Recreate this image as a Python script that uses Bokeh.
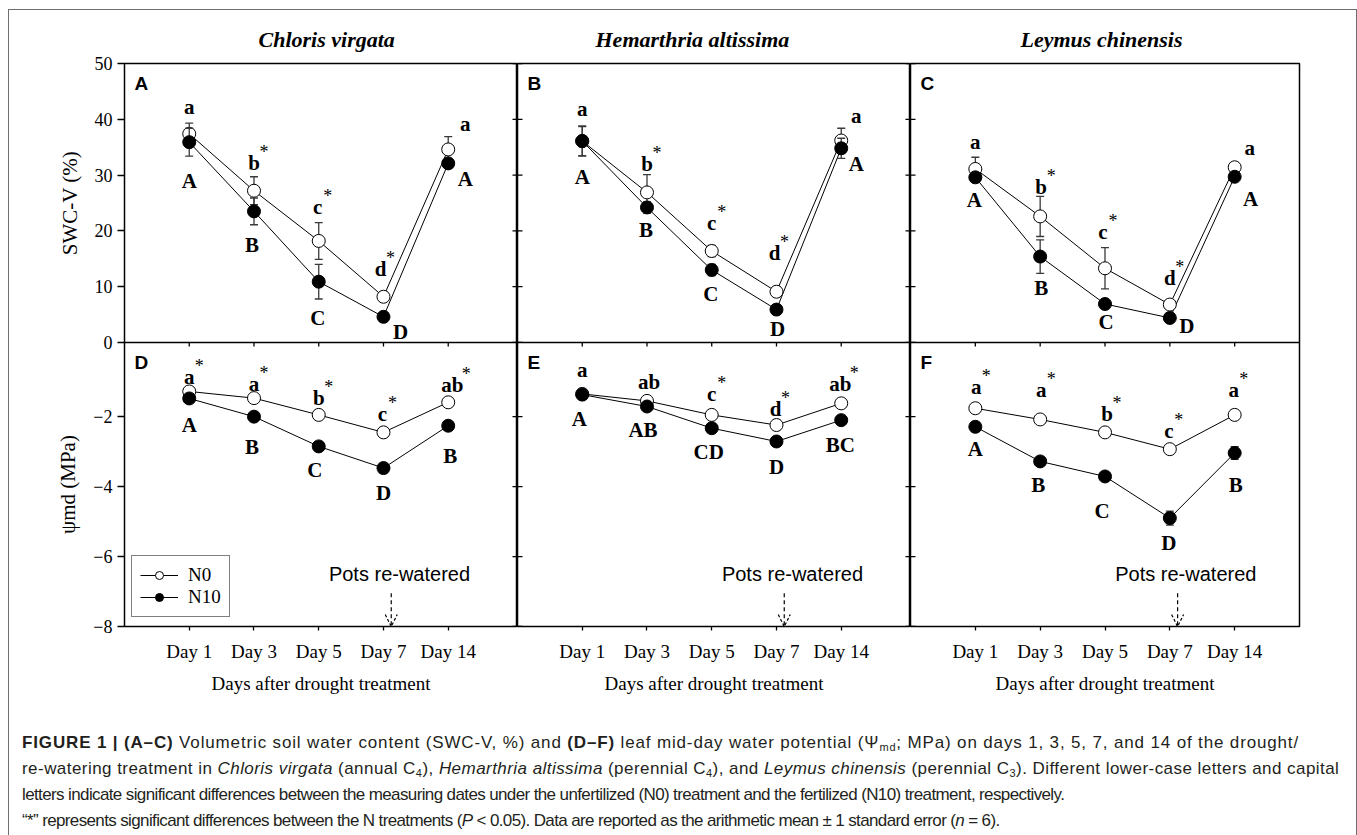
import math

from bokeh.plotting import figure
from bokeh.layouts import row, column
from bokeh.models import (Range1d, LinearAxis, FixedTicker, Label, Legend, LegendItem,
                          Arrow, OpenHead, ColumnDataSource, Div, Title)
from bokeh.embed import file_html
from bokeh.resources import INLINE
from bokeh.core.properties import value

# ---------------- data ----------------
days = ["Day 1", "Day 3", "Day 5", "Day 7", "Day 14"]
species = ["Chloris virgata", "Hemarthria altissima", "Leymus chinensis"]
panel_tags = ["A", "B", "C", "D", "E", "F"]
swc_ticks = [0, 10, 20, 30, 40, 50]
psi_ticks = [-8, -6, -4, -2]
series_names = ["N0", "N10"]
rewater_day = "Day 7"
rewater_note = "Pots re-watered"

# volumetric soil water content, SWC-V (%)
swc_cv_n0 = [37.4, 27.2, 18.2, 8.2, 34.6]
swc_cv_n0_se = [1.9, 2.5, 3.3, 0.8, 2.3]
swc_cv_n10 = [35.9, 23.5, 10.9, 4.6, 32.1]
swc_cv_n10_se = [2.5, 2.4, 3.1, 0.5, 0.9]

swc_ha_n0 = [36.1, 26.9, 16.4, 9.1, 36.2]
swc_ha_n0_se = [2.6, 3.2, 1.0, 0.6, 2.2]
swc_ha_n10 = [36.1, 24.2, 13.0, 5.9, 34.8]
swc_ha_n10_se = [2.7, 1.0, 1.0, 0.8, 1.8]

swc_lc_n0 = [31.1, 22.6, 13.3, 6.8, 31.4]
swc_lc_n0_se = [2.1, 3.6, 3.7, 0.5, 0.8]
swc_lc_n10 = [29.6, 15.4, 6.9, 4.4, 29.7]
swc_lc_n10_se = [0.8, 3.0, 0.6, 0.5, 0.6]

# leaf mid-day water potential, psi_md (MPa)
psi_cv_n0 = [-1.28, -1.47, -1.95, -2.45, -1.59]
psi_cv_n0_se = [0.08, 0.08, 0.08, 0.08, 0.08]
psi_cv_n10 = [-1.48, -2.00, -2.85, -3.47, -2.26]
psi_cv_n10_se = [0.08, 0.08, 0.08, 0.10, 0.08]

psi_ha_n0 = [-1.35, -1.55, -1.95, -2.24, -1.62]
psi_ha_n0_se = [0.06, 0.06, 0.06, 0.06, 0.06]
psi_ha_n10 = [-1.37, -1.71, -2.33, -2.71, -2.10]
psi_ha_n10_se = [0.06, 0.06, 0.08, 0.08, 0.08]

psi_lc_n0 = [-1.76, -2.08, -2.45, -2.93, -1.95]
psi_lc_n0_se = [0.08, 0.08, 0.08, 0.08, 0.08]
psi_lc_n10 = [-2.29, -3.28, -3.71, -4.90, -3.04]
psi_lc_n10_se = [0.08, 0.08, 0.08, 0.20, 0.18]

# significance letters (lower case: N0 between dates, capitals: N10 between dates,
# star: N0 vs N10 on that date)
swc_cv_lower = ["a", "b", "c", "d", "a"]
swc_cv_star = [False, True, True, True, False]
swc_cv_upper = ["A", "B", "C", "D", "A"]
swc_ha_lower = ["a", "b", "c", "d", "a"]
swc_ha_star = [False, True, True, True, False]
swc_ha_upper = ["A", "B", "C", "D", "A"]
swc_lc_lower = ["a", "b", "c", "d", "a"]
swc_lc_star = [False, True, True, True, False]
swc_lc_upper = ["A", "B", "C", "D", "A"]
psi_cv_lower = ["a", "a", "b", "c", "ab"]
psi_cv_star = [True, True, True, True, True]
psi_cv_upper = ["A", "B", "C", "D", "B"]
psi_ha_lower = ["a", "ab", "c", "d", "ab"]
psi_ha_star = [False, False, True, True, True]
psi_ha_upper = ["A", "AB", "CD", "D", "BC"]
psi_lc_lower = ["a", "a", "b", "c", "a"]
psi_lc_star = [True, True, True, True, True]
psi_lc_upper = ["A", "B", "C", "D", "B"]

# ---------------- label placement (pixel offsets from the marker) ----------------
lower_off = {
    "A": [(0, -27), (0, -28), (-1, -34), (-3, -28), (17, -25)],
    "B": [(0, -32), (0, -28), (0, -28), (-2, -39), (15, -25)],
    "C": [(0, -27), (1, -29), (-2, -36), (0, -27), (15, -19)],
    "D": [(0, -14), (0, -14), (0, -17), (-1, -18), (4, -17)],
    "E": [(0, -24), (2, -19), (0, -21), (-1, -16), (-1, -19)],
    "F": [(1, -21), (1, -29), (2, -18), (-1, -18), (-1, -25)],
}
upper_off = {
    "A": [(0, 39), (-2, 34), (-1, 36), (17, 15), (17, 16)],
    "B": [(0, 36), (-1, 23), (-1, 24), (1, 19), (15, 16)],
    "C": [(-1, 23), (1, 31), (1, 18), (17, 8), (16, 22)],
    "D": [(0, 27), (-2, 30), (-4, 24), (0, 25), (2, 30)],
    "E": [(-3, 24), (-4, 23), (-3, 24), (0, 26), (-1, 25)],
    "F": [(0, 22), (-2, 24), (-3, 35), (-1, 25), (1, 32)],
}

SERIF = "Liberation Serif"
SANS = "Liberation Sans"
x_pos = list(range(1, len(days) + 1))
day_labels = {i: d for i, d in zip(x_pos, days)}
rewater_x = days.index(rewater_day) + 1


def style_axis(ax, tick_out, label_size):
    ax.axis_line_color = None
    ax.major_tick_in = 0
    ax.major_tick_out = tick_out
    ax.major_tick_line_color = "black"
    ax.major_tick_line_width = 1.3
    ax.minor_tick_line_color = None
    ax.minor_tick_in = 0
    ax.minor_tick_out = 0
    ax.major_label_text_font = SERIF
    ax.major_label_text_color = "black"
    ax.major_label_text_font_size = label_size
    ax.axis_label_text_font = SERIF
    ax.axis_label_text_font_style = "normal"
    ax.axis_label_text_color = "black"
    return ax


def inner_ticks(p, side, ticks, length):
    """Short tick marks on a shared frame edge; the frame clips them to its inside."""
    if side == "left":
        p.scatter([p.x_range.start] * len(ticks), ticks, marker="dash", size=2 * length,
                  line_color="black", line_width=1.3)
    elif side == "right":
        p.scatter([p.x_range.end] * len(ticks), ticks, marker="dash", size=2 * length,
                  line_color="black", line_width=1.3)
    else:  # top
        p.scatter(ticks, [p.y_range.end] * len(ticks), marker="dash", angle=math.pi / 2,
                  size=2 * length, line_color="black", line_width=1.3)


def make_panel(width, height, bl, br, bt, bb, xmax, yr):
    p = figure(width=width, height=height, x_range=Range1d(0, xmax), y_range=Range1d(*yr),
               output_backend="svg", toolbar_location=None, tools="",
               x_axis_location=None, y_axis_location=None,
               min_border_left=bl, min_border_right=br,
               min_border_top=bt, min_border_bottom=bb)
    p.grid.visible = False
    p.outline_line_color = "black"
    p.outline_line_width = 1.5
    p.background_fill_color = "white"
    p.border_fill_color = "white"
    return p


def draw_series(p, n0, n0_se, n10, n10_se):
    l0 = p.line(x_pos, n0, line_color="black", line_width=1)
    l1 = p.line(x_pos, n10, line_color="black", line_width=1)
    rends = []
    for vals, se, fill in ((n0, n0_se, "white"), (n10, n10_se, "black")):
        lo = [v - e for v, e in zip(vals, se)]
        hi = [v + e for v, e in zip(vals, se)]
        p.segment(x0=x_pos, y0=lo, x1=x_pos, y1=hi, line_color="#3a3a3a", line_width=1.3)
        p.scatter(x_pos + x_pos, lo + hi, marker="dash", size=8,
                  line_color="#3a3a3a", line_width=1.3)
        s = p.scatter(x_pos, vals, marker="circle", size=13, fill_color=fill,
                      line_color="black", line_width=1)
        rends.append(s)
    return (l0, rends[0]), (l1, rends[1])


def draw_letters(p, tag, n0, n10, lower, star, upper):
    lo = lower_off[tag]
    up = upper_off[tag]
    src_lo = ColumnDataSource(dict(x=x_pos, y=n0, t=lower,
                                   dx=[o[0] for o in lo], dy=[o[1] for o in lo]))
    p.text(x="x", y="y", text="t", x_offset="dx", y_offset="dy", source=src_lo,
           text_font=value(SERIF), text_font_style="bold", text_font_size="21px",
           text_align="center", text_baseline="middle", text_color="black")
    src_up = ColumnDataSource(dict(x=x_pos, y=n10, t=upper,
                                   dx=[o[0] for o in up], dy=[o[1] for o in up]))
    p.text(x="x", y="y", text="t", x_offset="dx", y_offset="dy", source=src_up,
           text_font=value(SERIF), text_font_style="bold", text_font_size="21px",
           text_align="center", text_baseline="middle", text_color="black")
    sx, sy, sdx, sdy = [], [], [], []
    for i, flag in enumerate(star):
        if flag:
            sx.append(x_pos[i])
            sy.append(n0[i])
            sdx.append(lo[i][0] + (10 if len(lower[i]) == 1 else 14))
            sdy.append(lo[i][1] - 11)
    if sx:
        src_st = ColumnDataSource(dict(x=sx, y=sy, dx=sdx, dy=sdy, t=["*"] * len(sx)))
        p.text(x="x", y="y", text="t", x_offset="dx", y_offset="dy", source=src_st,
               text_font=value(SERIF), text_font_size="18px",
               text_align="center", text_baseline="middle", text_color="black")


def panel_tag(p, tag, frame_h):
    p.add_layout(Label(x=10, y=frame_h - 9, x_units="screen", y_units="screen", text=tag,
                       text_font=SANS, text_font_style="bold", text_font_size="19px",
                       text_baseline="top", text_align="left", text_color="black"))


# ---------------- geometry ----------------
FW_AB, FW_C = 393, 389
FH_TOP, FH_BOT = 279, 284
BL, BR_C = 115, 57
BT_TOP, BB_TOP, BB_BOT = 53, 14, 74
title_left = [134, 78, 110]   # title start, measured from each frame's left edge

swc_sets = [
    (swc_cv_n0, swc_cv_n0_se, swc_cv_n10, swc_cv_n10_se, swc_cv_lower, swc_cv_star, swc_cv_upper),
    (swc_ha_n0, swc_ha_n0_se, swc_ha_n10, swc_ha_n10_se, swc_ha_lower, swc_ha_star, swc_ha_upper),
    (swc_lc_n0, swc_lc_n0_se, swc_lc_n10, swc_lc_n10_se, swc_lc_lower, swc_lc_star, swc_lc_upper),
]
psi_sets = [
    (psi_cv_n0, psi_cv_n0_se, psi_cv_n10, psi_cv_n10_se, psi_cv_lower, psi_cv_star, psi_cv_upper),
    (psi_ha_n0, psi_ha_n0_se, psi_ha_n10, psi_ha_n10_se, psi_ha_lower, psi_ha_star, psi_ha_upper),
    (psi_lc_n0, psi_lc_n0_se, psi_lc_n10, psi_lc_n10_se, psi_lc_lower, psi_lc_star, psi_lc_upper),
]

top_row, bottom_row = [], []
for col in range(3):
    first, last = col == 0, col == 2
    fw = FW_C if last else FW_AB
    xmax = 6.0 if last else 6.07
    bl = BL if first else 0
    br = BR_C if last else 0

    # ---- soil water content panel ----
    p = make_panel(bl + fw + br, BT_TOP + FH_TOP + BB_TOP, bl, br, BT_TOP, BB_TOP, xmax, (0, 50))
    p.title = Title(text=species[col], align="left", offset=title_left[col],
                    text_font=SERIF, text_font_style="bold italic", text_font_size="22px",
                    text_color="black", standoff=24)
    if first:
        ya = style_axis(LinearAxis(ticker=FixedTicker(ticks=swc_ticks)), 7, "18px")
        ya.major_label_standoff = 5
        ya.axis_label = "SWC-V (%)"
        ya.axis_label_text_font_size = "21px"
        ya.axis_label_standoff = 10
        p.add_layout(ya, "left")
    else:
        inner_ticks(p, "left", swc_ticks, 5)
    if not last:
        inner_ticks(p, "right", swc_ticks, 5)
    n0, n0_se, n10, n10_se, lower, star, upper = swc_sets[col]
    draw_series(p, n0, n0_se, n10, n10_se)
    draw_letters(p, panel_tags[col], n0, n10, lower, star, upper)
    panel_tag(p, panel_tags[col], FH_TOP)
    top_row.append(p)

    # ---- water potential panel ----
    q = make_panel(bl + fw + br, FH_BOT + BB_BOT, bl, br, 0, BB_BOT, xmax, (-8, 0.12))
    q.border_fill_alpha = 0
    if first:
        ya = style_axis(LinearAxis(ticker=FixedTicker(ticks=psi_ticks)), 7, "18px")
        ya.major_label_standoff = 5
        ya.axis_label = "ψmd (MPa)"
        ya.axis_label_text_font_size = "21px"
        ya.axis_label_standoff = 10
        q.add_layout(ya, "left")
    else:
        inner_ticks(q, "left", psi_ticks, 5)
    if not last:
        inner_ticks(q, "right", psi_ticks, 5)
    inner_ticks(q, "top", x_pos, 4)

    xa = style_axis(LinearAxis(ticker=FixedTicker(ticks=x_pos)), 4, "19px")
    xa.major_label_overrides = day_labels
    xa.major_label_standoff = 10
    xa.axis_label = "Days after drought treatment"
    xa.axis_label_text_font_size = "19px"
    xa.axis_label_standoff = 8
    q.add_layout(xa, "below")

    n0, n0_se, n10, n10_se, lower, star, upper = psi_sets[col]
    (l0, s0), (l1, s1) = draw_series(q, n0, n0_se, n10, n10_se)
    draw_letters(q, panel_tags[col + 3], n0, n10, lower, star, upper)
    panel_tag(q, panel_tags[col + 3], FH_BOT)

    q.add_layout(Label(x=rewater_x, y=-6.5, x_offset=16, text=rewater_note,
                       text_font=SANS, text_font_size="20px", text_align="center",
                       text_baseline="middle", text_color="black"))
    q.add_layout(Arrow(end=OpenHead(size=12, line_width=1.2, line_dash="3 2", line_color="black"),
                       x_start=rewater_x + 0.12, y_start=-7.05, x_end=rewater_x + 0.12, y_end=-8.0,
                       line_color="black", line_width=1.2, line_dash="4 3"))
    if first:
        leg = Legend(items=[LegendItem(label=series_names[0], renderers=[l0, s0]),
                            LegendItem(label=series_names[1], renderers=[l1, s1])],
                     location=(7, 9), orientation="vertical", margin=0, padding=8, spacing=0,
                     glyph_width=38, glyph_height=20, label_standoff=10,
                     label_text_font=SERIF, label_text_font_size="19px", label_text_color="black",
                     border_line_color="black", border_line_width=1,
                     background_fill_color="white", background_fill_alpha=1)
        q.add_layout(leg)
    bottom_row.append(q)

SUB = '<sub style="font-size:11px; line-height:0; vertical-align:-3px">'
caption_html = (
    '<div style="font-family: \'Liberation Sans\', Arial, sans-serif; font-size: 17px; '
    'line-height: 26px; color: #231f20; white-space: nowrap; padding: 30px 0 0 13px;">'
    '<span style="letter-spacing: 0.85px"><b>FIGURE 1 | (A–C)</b> Volumetric soil water content '
    '(SWC-V, %) and <b>(D–F)</b> leaf mid-day water potential (Ψ' + SUB + 'md</sub>; MPa) on days '
    '1, 3, 5, 7, and 14 of the drought/</span><br>'
    '<span style="letter-spacing: 0.45px">re-watering treatment in <i>Chloris virgata</i> '
    '(annual C' + SUB + '4</sub>), <i>Hemarthria altissima</i> (perennial C' + SUB + '4</sub>), and '
    '<i>Leymus chinensis</i> (perennial C' + SUB + '3</sub>). Different lower-case '
    'letters and capital</span><br>'
    '<span style="letter-spacing: -0.62px">letters indicate significant differences between the '
    'measuring dates under the unfertilized (N0) treatment and the fertilized (N10) treatment, '
    'respectively.</span><br>'
    '<span style="letter-spacing: -0.63px">“*” represents significant differences between the N '
    'treatments (<i>P</i> &lt; 0.05). Data are reported as the arithmetic mean ± 1 standard error '
    '(<i>n</i> = 6).</span>'
    '</div>'
)
caption = Div(text=caption_html, width=1347, height=135, margin=(0, 0, 0, 0))

bottom = row(*bottom_row, spacing=0, margin=(-BB_TOP, 0, 0, 0))
root = column(row(*top_row, spacing=0), bottom, caption, spacing=0,
              styles={"border": "1px solid #6e6e6e", "margin-left": "8px", "margin-top": "9px"})

with open("out.html", "w") as f:
    f.write(file_html(root, INLINE, "Figure 1"))
